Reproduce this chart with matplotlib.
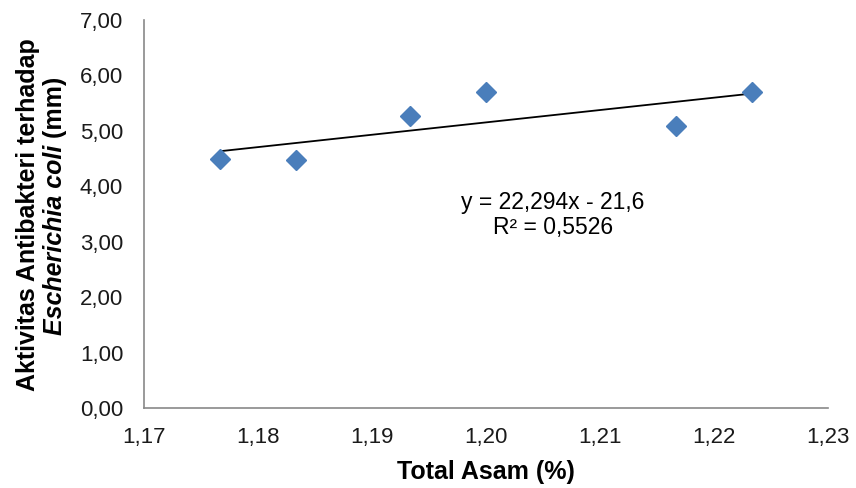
import numpy as np
import matplotlib
matplotlib.use("Agg")
from matplotlib import pyplot as plt
from matplotlib.ticker import FuncFormatter

# data
total_asam = [1.1767, 1.1833, 1.1933, 1.2000, 1.2167, 1.2233]
aktivitas = [4.49, 4.47, 5.26, 5.70, 5.09, 5.71]
slope = 22.294
intercept = -21.6
r2 = 0.5526

plt.rcParams['font.family'] = ['Liberation Sans', 'DejaVu Sans']

W, H = 856, 488
fig = plt.figure(figsize=(W / 100, H / 100), dpi=100)
ax = fig.add_axes([144 / W, 1 - 408 / H, (828 - 144) / W, (408 - 20) / H])

ax.plot(total_asam, aktivitas, linestyle='none', marker='D', markersize=10,
        color='#4A7EBB', zorder=3)

# trend line over the data range
xs = np.array([min(total_asam), max(total_asam)])
ax.plot(xs, slope * xs + intercept, color='black', linewidth=1.3, zorder=2)

ax.set_xlim(1.17, 1.23)
ax.set_ylim(0, 7)
ax.set_xticks(np.arange(1.17, 1.2301, 0.01))
ax.set_yticks(np.arange(0, 7.01, 1))
fmt = FuncFormatter(lambda v, p: f"{v:.2f}".replace('.', ','))
ax.xaxis.set_major_formatter(fmt)
ax.yaxis.set_major_formatter(fmt)
ax.tick_params(length=0, labelsize=16, colors='#1a1a1a')
ax.tick_params(axis='y', pad=15)
ax.tick_params(axis='x', pad=13.5)

for s in ['top', 'right']:
    ax.spines[s].set_visible(False)
for s in ['left', 'bottom']:
    ax.spines[s].set_color('#898989')
    ax.spines[s].set_linewidth(1.2)

fig.text(486 / W, 1 - 472 / H, 'Total Asam (%)', ha='center', va='center',
         fontsize=18, fontweight='bold')

eq = "y = 22,294x - 21,6\nR² = {:.4f}".format(r2).replace('0.', '0,')
ax.text(0.598, 0.497, eq, transform=ax.transAxes,
        ha='center', va='center', fontsize=16.5, linespacing=1.1)

# y label: two lines, second one partly italic
fig.text(28 / W, 1 - 215 / H, 'Aktivitas Antibakteri terhadap', rotation=90,
         ha='center', va='center', fontsize=18, fontweight='bold')

fig.canvas.draw()
r = fig.canvas.get_renderer()
t1 = fig.text(55 / W, 0, 'Escherichia coli', rotation=90, ha='center', va='bottom',
              fontsize=18, fontweight='bold', style='italic')
t2 = fig.text(55 / W, 0, ' (mm)', rotation=90, ha='center', va='bottom',
              fontsize=18, fontweight='bold')
h1 = t1.get_window_extent(r).height
h2 = t2.get_window_extent(r).height
start = (H - 206) - (h1 + h2) / 2
t1.set_y(start / H)
t2.set_y((start + h1) / H)

fig.savefig('out.png', dpi=100)
